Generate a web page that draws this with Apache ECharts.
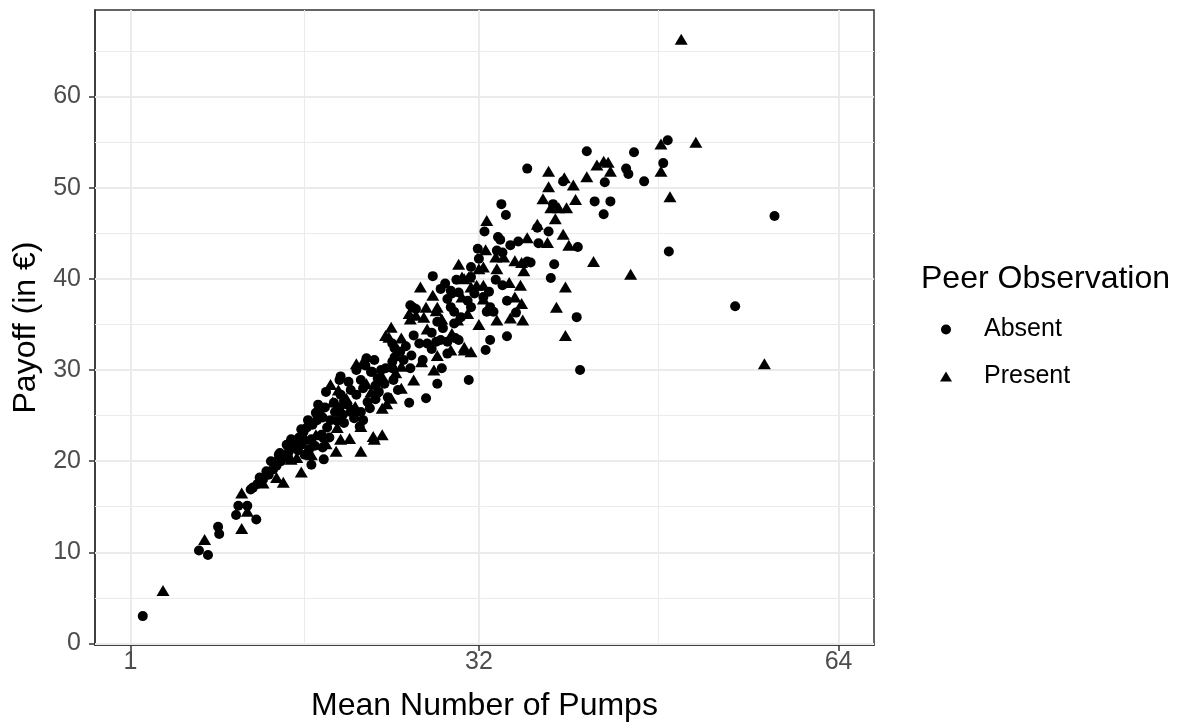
<!DOCTYPE html>
<html>
<head>
<meta charset="utf-8">
<title>Payoff by mean number of pumps</title>
<script src="https://cdn.jsdelivr.net/npm/echarts@6.0.0/dist/echarts.min.js"></script>
<style>
  html, body { margin: 0; padding: 0; background: #fff; }
  #chart { width: 1184px; height: 728px; }
</style>
</head>
<body>
<div id="chart"></div>
<script>
// mean pumps vs payoff, one pair per participant
const absentPoints = [
  [2.1, 3.0], [7.1, 10.2], [7.9, 9.7], [8.8, 12.8], [8.9, 12.0], [10.4, 14.1], [10.6, 15.1], [11.4, 15.1], [12.2, 13.6], [14.3, 20.9],
  [11.7, 16.9], [12.3, 17.5], [12.8, 18.0], [12.5, 18.2], [13.3, 18.5], [13.7, 19.1], [13.1, 18.9], [14.0, 19.5], [14.4, 20.0], [14.8, 20.4],
  [14.2, 20.7], [15.1, 21.1], [15.3, 21.5], [15.6, 21.9], [14.9, 21.8], [13.5, 20.0], [11.9, 17.1], [13.9, 19.9], [15.0, 20.6], [15.9, 21.2],
  [16.0, 22.6], [16.4, 23.2], [16.7, 23.7], [16.2, 21.8], [17.1, 22.4], [17.2, 24.0], [17.6, 24.5], [17.8, 25.3], [17.7, 26.2], [18.1, 24.8],
  [18.5, 23.7], [18.0, 22.9], [18.8, 24.5], [19.2, 25.4], [19.6, 25.9], [19.9, 25.1], [16.9, 21.3], [17.4, 21.7], [18.7, 22.6], [20.3, 26.2],
  [20.6, 25.4], [18.3, 25.9], [16.5, 20.7], [18.1, 21.5], [18.2, 20.2], [17.1, 19.6], [18.2, 22.5], [21.4, 23.8], [21.7, 24.5], [15.3, 22.4],
  [16.2, 23.5], [16.8, 24.5], [17.5, 25.3], [19.6, 28.9], [20.0, 24.2], [20.9, 24.7], [22.3, 25.8], [22.8, 26.8], [23.9, 27.0], [24.4, 28.9],
  [22.8, 28.3], [20.0, 26.6], [19.4, 24.4],
  [19.7, 29.3], [18.4, 27.6], [22.7, 31.1], [26.2, 33.8], [26.7, 32.9], [23.4, 28.7], [23.1, 27.6], [24.8, 27.8], [25.8, 26.4], [27.3, 26.9],
  [20.6, 27.8], [21.5, 28.9], [22.4, 29.8], [19.1, 26.4], [19.7, 27.3], [21.1, 27.3], [22.1, 26.5], [20.4, 28.7], [21.7, 28.0], [23.0, 29.1],
  [23.7, 30.2], [24.3, 30.9], [21.1, 30.0], [21.9, 30.5], [20.8, 25.6], [21.5, 25.4], [23.0, 27.5], [22.0, 31.3],
  [26.1, 36.9], [28.3, 35.3], [29.8, 35.1], [28.6, 33.3], [29.2, 33.1], [29.9, 33.5], [30.2, 33.3], [24.3, 32.9], [24.5, 32.4], [28.7, 30.2],
  [28.3, 28.5], [31.1, 28.9], [23.6, 28.5], [25.3, 31.1], [27.0, 31.1], [22.5, 29.8], [23.3, 30.0], [24.3, 30.2], [25.9, 30.2], [24.5, 31.4],
  [27.4, 32.9], [28.2, 33.1], [32.6, 32.2], [33.0, 33.3], [29.2, 31.8], [29.6, 38.4], [29.2, 37.8], [31.0, 37.6], [32.7, 36.4], [33.3, 36.4],
  [29.8, 36.4], [30.4, 35.8], [25.5, 32.6], [26.0, 31.6], [27.8, 32.3], [28.8, 34.6], [27.8, 34.1], [25.0, 32.0],
  [34.0, 48.2], [34.4, 47.0], [32.5, 45.2], [33.7, 44.6], [33.9, 44.3], [35.5, 44.1], [34.8, 43.7], [31.9, 43.3], [33.6, 43.1], [34.1, 42.9],
  [31.3, 41.3], [32.0, 42.2], [27.9, 40.3], [29.0, 39.5], [29.5, 38.7], [30.2, 38.5], [31.3, 40.2], [34.1, 39.3], [32.4, 38.0], [25.9, 37.1],
  [26.4, 36.7], [31.3, 36.9], [34.5, 37.6], [33.0, 36.9], [35.3, 36.3], [34.5, 33.7], [29.5, 36.9], [31.6, 38.4], [32.9, 38.6], [30.0, 39.9],
  [28.6, 38.9], [33.5, 39.9],
  [36.3, 52.1], [39.5, 50.7], [41.6, 54.0], [45.8, 53.9], [48.8, 55.2], [45.1, 52.1], [45.3, 51.5], [46.7, 50.7], [48.4, 52.7], [43.2, 50.6],
  [42.3, 48.5], [43.7, 48.5], [43.1, 47.1], [58.3, 46.9], [40.8, 43.5], [48.9, 43.0], [54.8, 37.0], [40.7, 35.8], [41.0, 30.0], [38.6, 48.2],
  [37.2, 45.6], [38.2, 45.2], [37.3, 43.9], [36.6, 41.8], [38.7, 41.6], [38.4, 40.1], [36.3, 41.9]
];

const presentPoints = [
  [3.9, 5.8], [7.6, 11.4], [10.9, 12.6], [11.4, 14.5], [10.9, 16.5], [14.6, 17.7], [12.8, 17.6], [14.0, 18.2],
  [16.2, 18.8], [19.3, 21.1], [19.7, 22.4], [20.5, 22.5], [15.8, 20.4], [17.1, 20.7], [18.4, 21.9], [19.4, 23.7], [17.5, 22.9], [19.0, 26.5],
  [16.6, 22.4], [15.3, 20.2], [21.5, 21.1], [22.7, 22.4], [18.8, 28.4], [21.1, 30.7], [21.7, 30.9], [24.0, 33.6], [25.1, 33.5], [24.2, 26.9],
  [25.1, 28.0], [26.2, 28.9], [23.4, 25.8], [23.4, 22.9], [22.6, 22.7], [21.5, 23.8], [20.2, 26.9], [22.4, 27.6], [19.5, 27.8], [22.0, 28.5],
  [23.3, 29.5], [24.6, 29.7], [24.2, 34.7], [23.7, 33.8], [27.4, 34.5], [28.3, 31.6], [30.7, 32.2], [24.6, 31.6], [25.1, 30.4], [21.0, 26.0],
  [23.8, 26.3], [26.9, 30.9], [28.0, 30.0], [29.6, 34.0],
  [32.7, 46.4], [36.3, 44.5], [32.6, 43.2], [33.5, 42.4], [34.2, 42.4], [35.2, 42.0], [35.8, 41.8], [36.0, 40.9], [30.2, 41.6], [32.0, 41.1],
  [32.4, 41.3], [33.6, 41.1], [30.5, 40.2], [31.1, 40.2], [26.8, 39.1], [27.9, 38.2], [34.7, 39.6], [35.7, 39.3], [35.2, 38.0], [32.4, 39.3],
  [35.8, 37.3], [30.5, 38.0], [30.7, 40.0], [31.3, 39.1], [31.8, 39.3], [32.4, 37.8], [33.6, 35.5], [34.8, 35.7], [35.9, 35.5], [25.8, 36.2],
  [27.3, 36.9], [28.2, 36.5], [28.7, 35.6], [30.1, 35.5], [25.9, 35.6], [26.4, 36.0], [27.1, 35.8], [30.7, 32.5], [31.3, 32.0], [29.5, 32.2],
  [28.3, 36.9], [31.0, 36.2], [32.0, 35.0],
  [50.0, 66.3], [48.2, 54.8], [51.3, 55.0], [42.5, 52.5], [43.1, 52.9], [43.5, 52.8], [43.7, 51.8], [48.2, 51.8], [41.6, 51.2], [39.6, 51.1],
  [40.4, 50.3], [49.0, 49.0], [40.6, 48.7], [39.8, 47.8], [39.5, 44.9], [40.0, 43.7], [42.2, 41.9], [45.5, 40.5], [39.7, 39.1], [39.7, 33.8],
  [57.4, 30.7], [38.2, 51.8], [38.2, 50.1], [37.7, 48.8], [38.4, 47.8], [39.1, 47.8], [38.8, 46.6], [37.2, 46.0], [38.1, 44.0], [38.9, 36.9]
];

const xTicks = [1, 32, 64];
const xMinorGrid = [16.5, 48];
const yTicks = [0, 10, 20, 30, 40, 50, 60];
const yMinorGrid = [5, 15, 25, 35, 45, 55, 65];

const FONT = '"Liberation Sans", Arial, sans-serif';
const GRID_COLOR = '#EBEBEB';

// ggplot-style panel grid, drawn as mark lines under the points
function gridLines(xs, ys, width) {
  return xs.map(v => ({ xAxis: v })).concat(ys.map(v => ({ yAxis: v })))
    .map(d => Object.assign(d, { lineStyle: { color: GRID_COLOR, width: width, type: 'solid' } }));
}

function gridSeries(name, xs, ys, width) {
  return {
    name: name,
    type: 'line',
    data: [],
    z: 1,
    silent: true,
    markLine: {
      z: 1,
      silent: true,
      symbol: ['none', 'none'],
      label: { show: false },
      animation: false,
      data: gridLines(xs, ys, width)
    }
  };
}

const chart = echarts.init(document.getElementById('chart'));

const option = {
  animation: false,
  backgroundColor: '#fff',
  textStyle: { fontFamily: FONT },
  title: {
    text: 'Peer Observation',
    left: 921,
    top: 263,
    padding: 0,
    textStyle: { fontFamily: FONT, fontSize: 32, fontWeight: 'normal', color: '#000' }
  },
  legend: {
    data: ['Absent', 'Present'],
    orient: 'vertical',
    left: 940,
    top: 317,
    padding: 0,
    itemGap: 22,
    itemWidth: 12,
    itemHeight: 10,
    formatter: name => '{gap|}' + name,
    textStyle: {
      fontFamily: FONT, fontSize: 25, color: '#000',
      rich: { gap: { width: 27 } }
    }
  },
  grid: {
    left: 95,
    right: 310,
    top: 10,
    bottom: 83,
    show: true,
    backgroundColor: '#fff',
    borderColor: '#333333',
    borderWidth: 1.5
  },
  xAxis: {
    type: 'value',
    min: -2.15,
    max: 67.15,
    name: 'Mean Number of Pumps',
    nameLocation: 'middle',
    nameGap: 45,
    nameTextStyle: { fontFamily: FONT, fontSize: 32, color: '#000' },
    axisLine: { show: true, onZero: false, lineStyle: { color: '#333333', width: 1.5 } },
    axisTick: { show: true, customValues: xTicks, length: 6, lineStyle: { color: '#333333', width: 1.5 } },
    axisLabel: { customValues: xTicks, fontFamily: FONT, fontSize: 25, color: '#4D4D4D', margin: 5 },
    splitLine: { show: false }
  },
  yAxis: {
    type: 'value',
    min: -0.17,
    max: 69.5,
    name: 'Payoff (in €)',
    nameLocation: 'middle',
    nameGap: 51,
    nameTextStyle: { fontFamily: FONT, fontSize: 32, color: '#000' },
    axisLine: { show: true, onZero: false, lineStyle: { color: '#333333', width: 1.5 } },
    axisTick: { show: true, customValues: yTicks, length: 6, lineStyle: { color: '#333333', width: 1.5 } },
    axisLabel: { customValues: yTicks, fontFamily: FONT, fontSize: 25, color: '#4D4D4D', margin: 14 },
    splitLine: { show: false }
  },
  series: [
    gridSeries('gridMinor', xMinorGrid, yMinorGrid, 1),
    gridSeries('gridMajor', xTicks, yTicks, 2),
    {
      name: 'Absent',
      type: 'scatter',
      data: absentPoints,
      symbol: 'circle',
      symbolSize: 10,
      itemStyle: { color: '#000', opacity: 1 },
      z: 3
    },
    {
      name: 'Present',
      type: 'scatter',
      data: presentPoints,
      symbol: 'triangle',
      symbolSize: [13, 11],
      itemStyle: { color: '#000', opacity: 1 },
      z: 3
    }
  ]
};

chart.setOption(option);
window.addEventListener('resize', () => chart.resize());
</script>
</body>
</html>
